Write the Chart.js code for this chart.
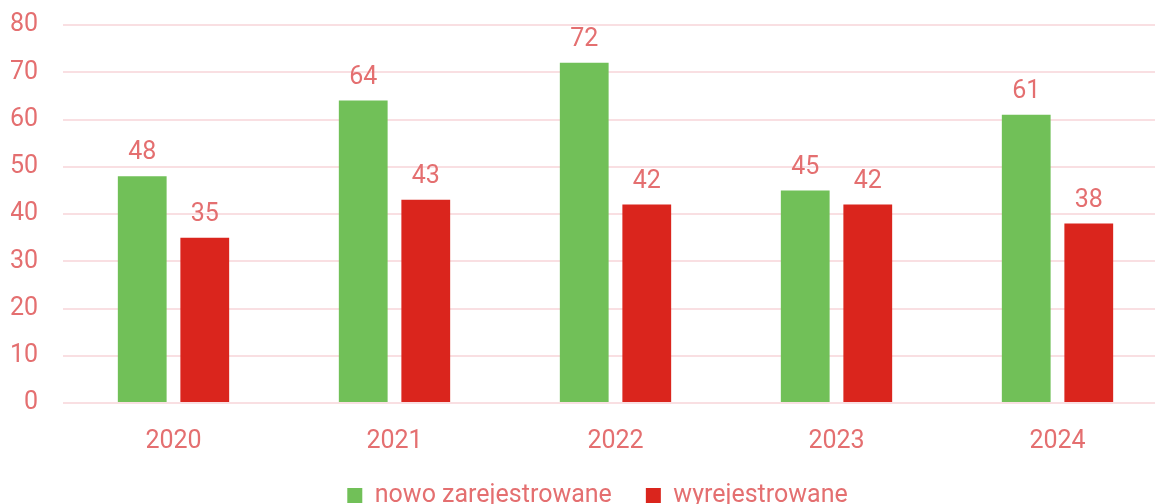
<!DOCTYPE html>
<html>
<head>
<meta charset="utf-8">
<script src="https://cdn.jsdelivr.net/npm/chart.js@4"></script>
<style>
  html, body { margin: 0; padding: 0; background: #fff; overflow: hidden; }
  canvas { display: block; }
</style>
</head>
<body>
<canvas id="chart" width="1168" height="518"></canvas>
<script>
// data
const years = ["2020", "2021", "2022", "2023", "2024"];
const nowoZarejestrowane = [48, 64, 72, 45, 61];
const wyrejestrowane = [35, 43, 42, 42, 38];
const yTicks = [0, 10, 20, 30, 40, 50, 60, 70, 80];

const textColor = "#e46f70";
const gridColor = "#f9dfe2";
const fontFamily = "Roboto";

// value labels above the bars
const barLabels = {
  id: "barLabels",
  afterDatasetsDraw(chart) {
    const ctx = chart.ctx;
    ctx.save();
    ctx.font = "25px " + fontFamily;
    ctx.fillStyle = textColor;
    ctx.textAlign = "center";
    ctx.textBaseline = "middle";
    chart.data.datasets.forEach((ds, i) => {
      const meta = chart.getDatasetMeta(i);
      meta.data.forEach((bar, j) => {
        ctx.fillText(ds.data[j], bar.x, bar.y - 23);
      });
    });
    ctx.restore();
  }
};

// legend sits a bit right of the canvas middle in the original
const legendShift = {
  id: "legendShift",
  afterLayout(chart) {
    chart.legend.left += 8;
    chart.legend.right += 8;
  }
};

const ctx = document.getElementById("chart").getContext("2d");
new Chart(ctx, {
  type: "bar",
  data: {
    labels: years,
    datasets: [
      {
        label: "nowo zarejestrowane",
        data: nowoZarejestrowane,
        backgroundColor: "#71c058",
        barPercentage: 0.78,
        categoryPercentage: 0.566
      },
      {
        label: "wyrejestrowane",
        data: wyrejestrowane,
        backgroundColor: "#da251d",
        barPercentage: 0.78,
        categoryPercentage: 0.566
      }
    ]
  },
  options: {
    responsive: false,
    animation: false,
    layout: { padding: { left: 11, top: 0, right: 0, bottom: 0 } },
    plugins: {
      tooltip: { enabled: false },
      legend: {
        position: "bottom",
        labels: {
          color: textColor,
          font: { family: fontFamily, size: 25 },
          boxWidth: 15,
          boxHeight: 15,
          padding: 34
        }
      }
    },
    scales: {
      x: {
        grid: { display: false, drawTicks: false },
        border: { display: false },
        ticks: {
          color: textColor,
          font: { family: fontFamily, size: 25 },
          padding: 24
        },
        afterFit(axis) { axis.height = 46; }
      },
      y: {
        min: 0,
        max: 80,
        afterBuildTicks(axis) {
          axis.ticks = yTicks.map(v => ({ value: v }));
        },
        afterFit(axis) {
          axis.width = 52;
          axis.paddingTop = 25;
        },
        border: { display: false },
        grid: { color: gridColor, lineWidth: 2, drawTicks: false },
        ticks: {
          color: textColor,
          font: { family: fontFamily, size: 25 },
          padding: 25
        }
      }
    }
  },
  plugins: [barLabels, legendShift]
});
</script>
</body>
</html>
